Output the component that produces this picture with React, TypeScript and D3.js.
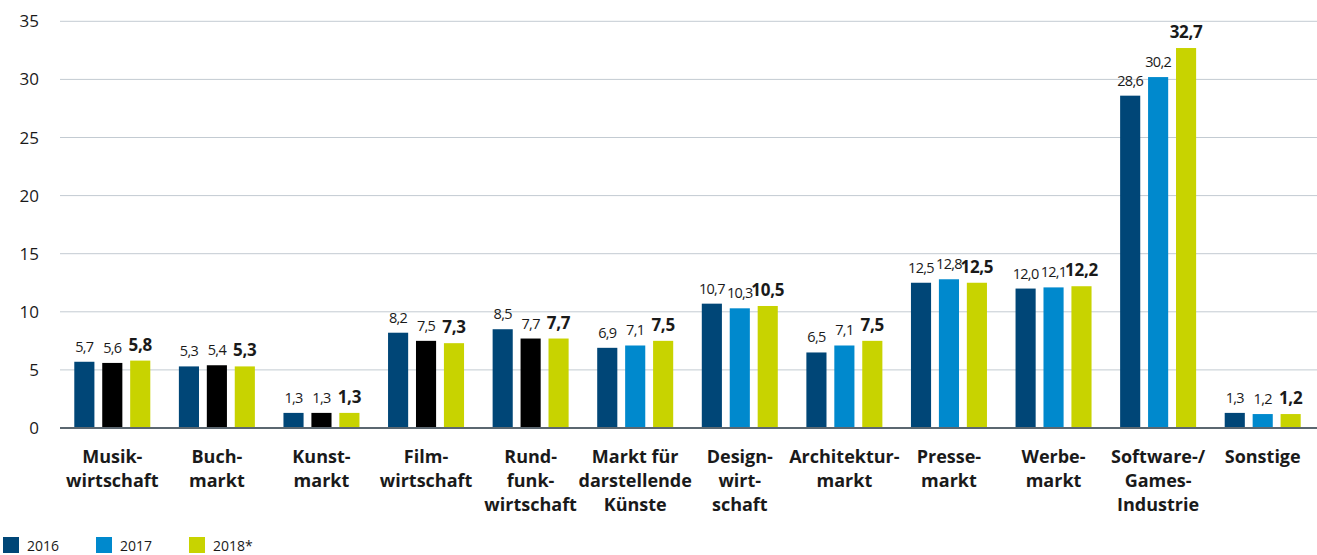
import React, { useEffect, useRef } from 'react';
import * as d3 from 'd3';

const categories = [
  ['Musik-', 'wirtschaft'],
  ['Buch-', 'markt'],
  ['Kunst-', 'markt'],
  ['Film-', 'wirtschaft'],
  ['Rund-', 'funk-', 'wirtschaft'],
  ['Markt für', 'darstellende', 'Künste'],
  ['Design-', 'wirt-', 'schaft'],
  ['Architektur-', 'markt'],
  ['Presse-', 'markt'],
  ['Werbe-', 'markt'],
  ['Software-/', 'Games-', 'Industrie'],
  ['Sonstige'],
];
const values2016 = [5.7, 5.3, 1.3, 8.2, 8.5, 6.9, 10.7, 6.5, 12.5, 12.0, 28.6, 1.3];
const values2017 = [5.6, 5.4, 1.3, 7.5, 7.7, 7.1, 10.3, 7.1, 12.8, 12.1, 30.2, 1.2];
const values2018 = [5.8, 5.3, 1.3, 7.3, 7.7, 7.5, 10.5, 7.5, 12.5, 12.2, 32.7, 1.2];
const seriesNames = ['2016', '2017', '2018*'];
const yTicks = [0, 5, 10, 15, 20, 25, 30, 35];

const colors = ['#004677', '#0089cd', '#c8d300'];
const black2017Until = 5; // first five groups draw the 2017 bar in black

const W = 1317;
const H = 555;
const FONT = '"Open Sans", "Noto Sans", sans-serif';

const App: React.FC = () => {
  const ref = useRef<SVGSVGElement | null>(null);

  useEffect(() => {
    const svg = d3.select(ref.current);
    svg.selectAll('*').remove();

    const x0 = d3.scaleBand<number>()
      .domain(d3.range(categories.length))
      .range([60, 1315])
      .paddingInner(0)
      .paddingOuter(0);
    const x1 = d3.scaleBand<number>()
      .domain([0, 1, 2])
      .range([x0.bandwidth() / 2 - 38, x0.bandwidth() / 2 + 38])
      .paddingInner(0.28)
      .paddingOuter(0);
    const y = d3.scaleLinear().domain([0, 35]).range([428, 21.3]);

    // grid
    svg.append('g')
      .selectAll('line')
      .data(yTicks.filter(t => t > 0))
      .enter()
      .append('line')
      .attr('x1', 60)
      .attr('x2', W)
      .attr('y1', d => y(d))
      .attr('y2', d => y(d))
      .attr('stroke', '#c3cbd2')
      .attr('stroke-width', 1);

    // y labels
    svg.append('g')
      .selectAll('text')
      .data(yTicks)
      .enter()
      .append('text')
      .attr('x', 39)
      .attr('y', d => y(d) + 6)
      .attr('text-anchor', 'end')
      .attr('font-family', FONT)
      .attr('font-size', 17)
      .attr('fill', '#1a1a1a')
      .text(d => String(d));

    const all = [values2016, values2017, values2018];

    // bars + value labels
    const groups = svg.append('g')
      .selectAll('g')
      .data(categories.map((_, i) => i))
      .enter()
      .append('g')
      .attr('transform', i => `translate(${x0(i)},0)`);

    groups.each(function (i) {
      const g = d3.select(this);
      all.forEach((vals, s) => {
        const v = vals[i];
        const fill = s === 1 && i < black2017Until ? '#000000' : colors[s];
        const bx = x1(s)!;
        g.append('rect')
          .attr('x', bx)
          .attr('y', y(v))
          .attr('width', x1.bandwidth())
          .attr('height', y(0) - y(v))
          .attr('fill', fill);
        g.append('text')
          .attr('x', bx + x1.bandwidth() / 2)
          .attr('y', y(v) - 10)
          .attr('text-anchor', 'middle')
          .attr('font-family', FONT)
          .attr('font-size', s === 2 ? 17 : 14.5)
          .attr('font-weight', s === 2 ? 'bold' : 'normal')
          .attr('letter-spacing', s === 2 ? -0.3 : -0.7)
          .attr('fill', '#1a1a1a')
          .text(d3.format('.1f')(v).replace('.', ','));
      });
      // category label
      const t = g.append('text')
        .attr('text-anchor', 'middle')
        .attr('font-family', FONT)
        .attr('font-size', 18)
        .attr('font-weight', 'bold')
        .attr('fill', '#1a1a1a');
      categories[i].forEach((line, k) => {
        t.append('tspan')
          .attr('x', x0.bandwidth() / 2)
          .attr('y', 463 + k * 24)
          .text(line);
      });
    });

    // baseline
    svg.append('line')
      .attr('x1', 60)
      .attr('x2', W)
      .attr('y1', y(0))
      .attr('y2', y(0))
      .attr('stroke', '#5b6770')
      .attr('stroke-width', 2);

    // legend
    const legend = svg.append('g')
      .selectAll('g')
      .data(seriesNames)
      .enter()
      .append('g')
      .attr('transform', (_, i) => `translate(${3 + i * 93},537)`);
    legend.append('rect')
      .attr('width', 16)
      .attr('height', 16)
      .attr('fill', (_, i) => colors[i]);
    legend.append('text')
      .attr('x', 24)
      .attr('y', 14)
      .attr('font-family', FONT)
      .attr('font-size', 14)
      .attr('fill', '#1a1a1a')
      .text(d => d);
  }, []);

  return (
    <svg
      ref={ref}
      width={W}
      height={H}
      style={{ position: 'absolute', left: 0, top: 0, background: '#fff' }}
    />
  );
};

export default App;
